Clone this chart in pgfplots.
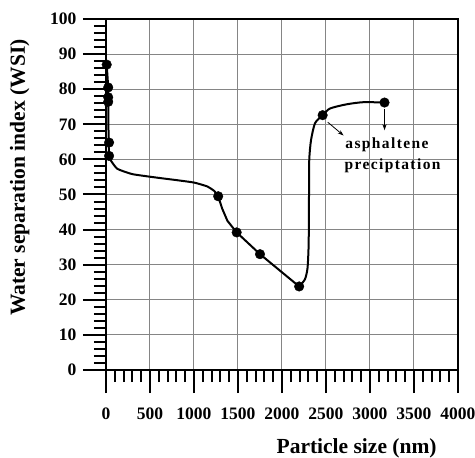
\documentclass[border=0pt]{standalone}
\usepackage{fontspec}
\setmainfont{Liberation Serif}
\usepackage{pgfplots}
\pgfplotsset{compat=1.18}
\usetikzlibrary{arrows.meta}
\begin{document}
\begin{tikzpicture}
\path[use as bounding box] (-106pt,-88pt) rectangle (369pt,370pt);
\begin{axis}[
  at={(0,0)}, anchor=south west,
  scale only axis, width=352pt, height=351pt,
  xmin=0, xmax=4000, ymin=0, ymax=100,
  xtick={0,500,...,4000}, ytick={0,10,...,100},
  minor x tick num=4, minor y tick num=4,
  grid=major,
  major grid style={line width=1pt, color=black!48},
  tick align=outside, tick pos=left,
  major tick length=23pt, minor tick length=12pt,
  every tick/.style={line width=2pt, black},
  axis line style={line width=2pt},
  /pgf/number format/assume math mode=true,
  /pgf/number format/1000 sep={},
  ticklabel style={font=\fontsize{17.5}{21}\selectfont\bfseries},
  yticklabel style={xshift=-3pt},
  xticklabel style={yshift=-11pt},
  xlabel={Particle size (nm)},
  ylabel={Water separation index (WSI)},
  label style={font=\fontsize{21.5}{26}\selectfont\bfseries},
  xlabel style={at={(axis description cs:0.712,-0.222)}, anchor=center},
  ylabel style={at={(axis description cs:-0.245,0.548)}, anchor=center, rotate=0},
  clip=false,
]
\addplot[black, line width=2pt, smooth, tension=0.3] coordinates {
 (8,87) (25,80.5) (25,77.5) (25,76.5) (30,65) (35,61)
 (60,59.5) (130,57.3) (300,55.8) (580,54.8) (800,54.1) (1000,53.4)
 (1150,52.3) (1230,51) (1275,49.5)
};
\addplot[black, line width=2pt] coordinates {
 (1275,49.5) (1320,46) (1380,42.5) (1485,39.2) (1750,33) (2195,23.8)
};
\addplot[black, line width=2pt, smooth, tension=0.4] coordinates {
 (2195,23.8) (2260,25.8) (2290,29) (2303,36) (2307,50) (2310,60)
 (2330,65.5) (2375,70.3) (2462,72.6) (2545,74.5) (2735,75.7) (2925,76.3) (3165,76.2)
};
\addplot[only marks, mark=*, mark size=4.8pt, black] coordinates {
 (8,87) (25,80.5) (25,77.7) (25,76.4) (35,64.8) (35,61)
 (1275,49.5) (1485,39.2) (1750,33) (2195,23.8) (2462,72.6) (3165,76.2)
};
\draw[black, line width=0.8pt, -{Stealth[length=6pt,width=4pt]}] (axis cs:2520,70.6) -- (axis cs:2700,66.8);
\draw[black, line width=0.8pt, -{Stealth[length=6pt,width=4pt]}] (axis cs:3165,74.3) -- (axis cs:3165,68.3);
\node[font=\fontsize{15.5}{18}\selectfont\bfseries\addfontfeature{LetterSpace=9}] at (axis cs:3193,64.1) {asphaltene};
\node[font=\fontsize{15.5}{18}\selectfont\bfseries\addfontfeature{LetterSpace=9}] at (axis cs:3256,58.1) {preciptation};
\end{axis}
\end{tikzpicture}
\end{document}
